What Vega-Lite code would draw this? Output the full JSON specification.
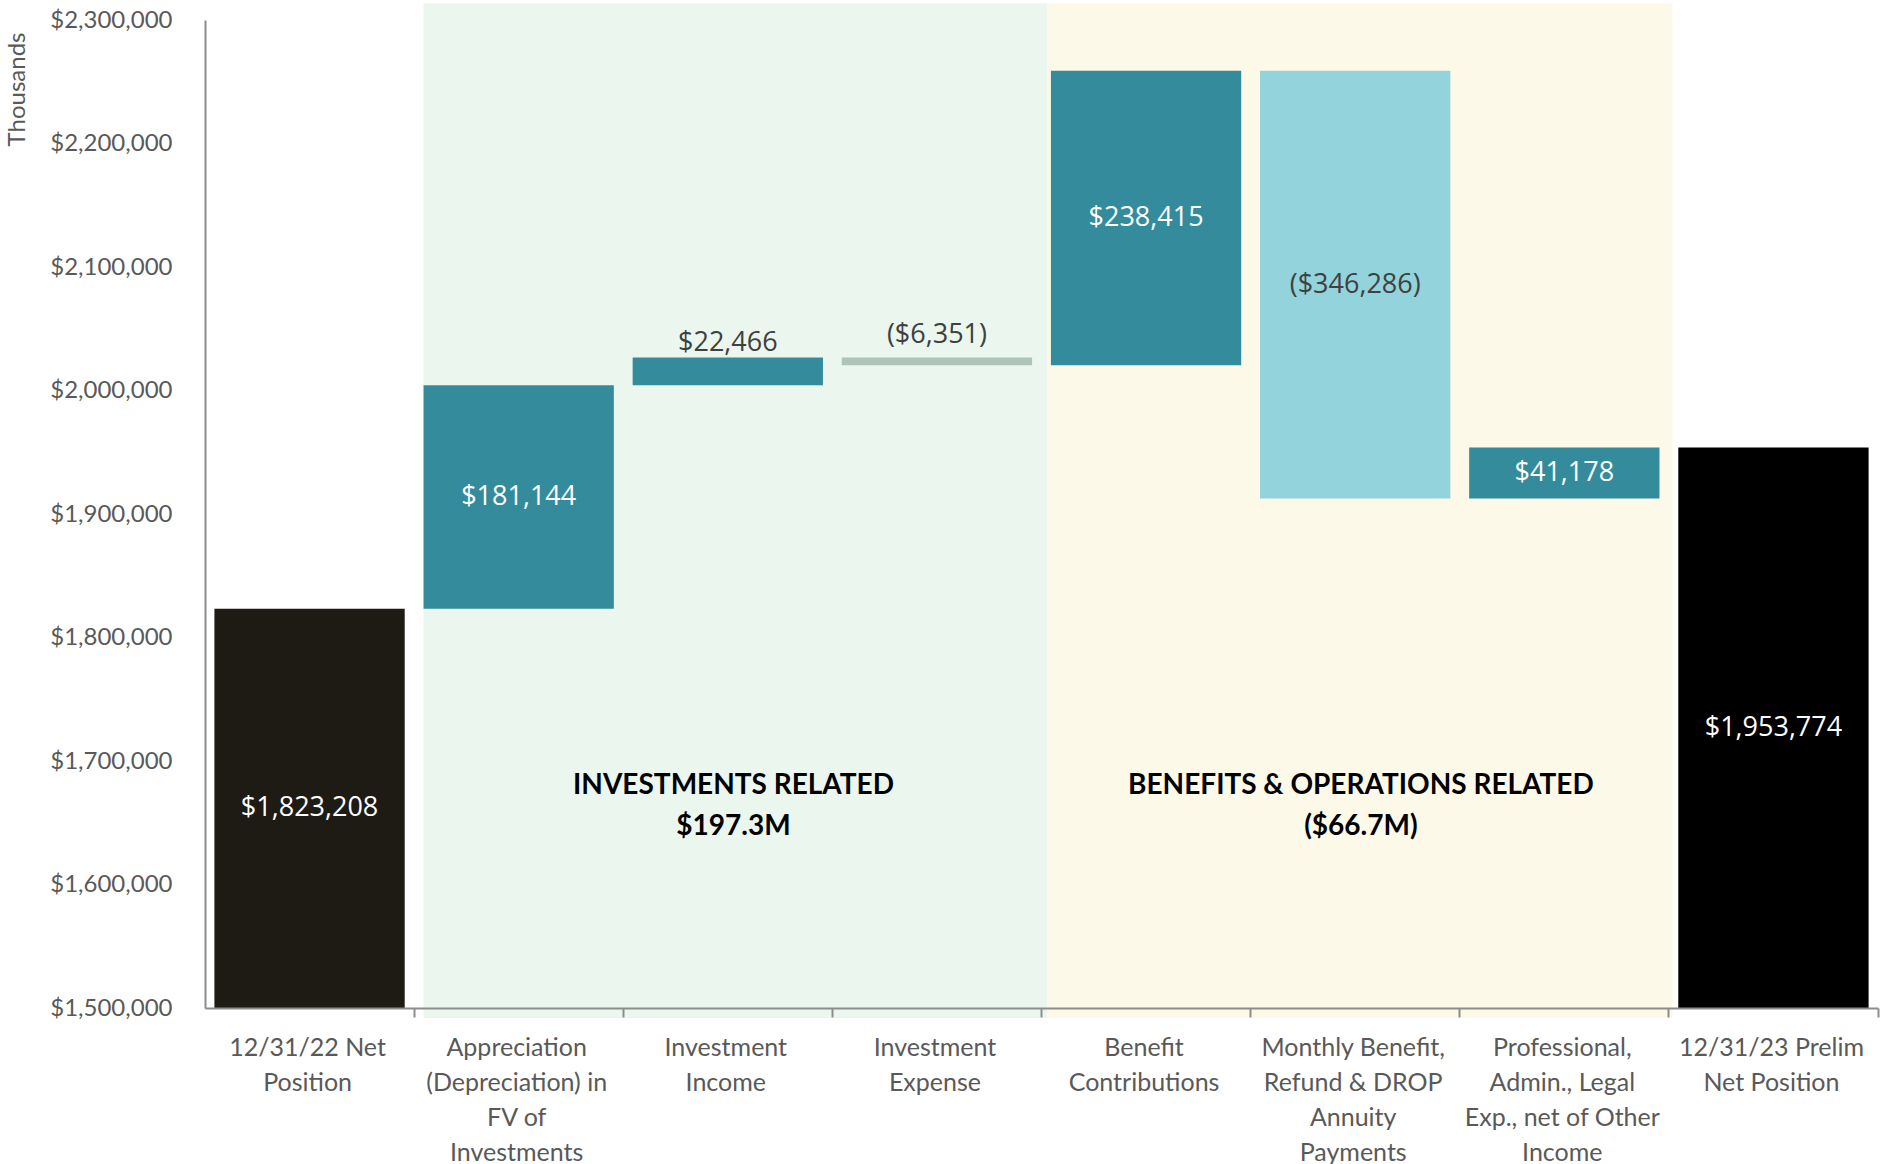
{
  "$schema": "https://vega.github.io/schema/vega-lite/v6.json",
  "width": 1673,
  "height": 988,
  "autosize": {"type": "none"},
  "padding": {"left": 205, "top": 20, "right": 3, "bottom": 156},
  "background": "white",
  "config": {"view": {"stroke": null}, "font": "Lato"},
  "datasets": {
    "steps": [
      {"category": "12/31/22 Net Position", "start": 1500000, "end": 1823208, "label": "$1,823,208"},
      {"category": "Appreciation (Depreciation) in FV of Investments", "start": 1823208, "end": 2004352, "label": "$181,144"},
      {"category": "Investment Income", "start": 2004352, "end": 2026818, "label": "$22,466"},
      {"category": "Investment Expense", "start": 2026818, "end": 2020467, "label": "($6,351)"},
      {"category": "Benefit Contributions", "start": 2020467, "end": 2258882, "label": "$238,415"},
      {"category": "Monthly Benefit, Refund & DROP Annuity Payments", "start": 2258882, "end": 1912596, "label": "($346,286)"},
      {"category": "Professional, Admin., Legal Exp., net of Other Income", "start": 1912596, "end": 1953774, "label": "$41,178"},
      {"category": "12/31/23 Prelim Net Position", "start": 1500000, "end": 1953774, "label": "$1,953,774"}
    ],
    "regions": [
      {"region": "INVESTMENTS RELATED", "amount": "$197.3M", "from": "Appreciation (Depreciation) in FV of Investments", "center": "Investment Income", "to": "Benefit Contributions"},
      {"region": "BENEFITS & OPERATIONS RELATED", "amount": "($66.7M)", "from": "Benefit Contributions", "center": "Monthly Benefit, Refund & DROP Annuity Payments", "to": "12/31/23 Prelim Net Position"}
    ]
  },
  "layer": [
    {
      "data": {"name": "regions"},
      "transform": [{"filter": "datum.region == 'INVESTMENTS RELATED'"}],
      "mark": {"type": "rect", "color": "#EBF7EE"},
      "encoding": {
        "x": {"field": "from", "type": "nominal", "bandPosition": 0,
          "scale": {"domain": ["12/31/22 Net Position", "Appreciation (Depreciation) in FV of Investments", "Investment Income", "Investment Expense", "Benefit Contributions", "Monthly Benefit, Refund & DROP Annuity Payments", "Professional, Admin., Legal Exp., net of Other Income", "12/31/23 Prelim Net Position"], "paddingInner": 0.09, "paddingOuter": 0.045},
          "axis": {
            "title": null, "labelAngle": 0, "zindex": 1, "bandPosition": 1.05,
            "domainColor": "#8C8C8C", "domainWidth": 2, "tickColor": "#8C8C8C", "tickWidth": 2, "tickSize": 9,
            "labelFont": "Lato", "labelFontSize": 25, "labelColor": "#595959", "labelLineHeight": 35, "labelPadding": 18, "labelLimit": 400, "labelOffset": -2,
            "labelExpr": "datum.value == '12/31/22 Net Position' ? ['12/31/22 Net', 'Position'] : datum.value == 'Appreciation (Depreciation) in FV of Investments' ? ['Appreciation', '(Depreciation) in', 'FV of', 'Investments'] : datum.value == 'Investment Income' ? ['Investment', 'Income'] : datum.value == 'Investment Expense' ? ['Investment', 'Expense'] : datum.value == 'Benefit Contributions' ? ['Benefit', 'Contributions'] : datum.value == 'Monthly Benefit, Refund & DROP Annuity Payments' ? ['Monthly Benefit,', 'Refund & DROP', 'Annuity', 'Payments'] : datum.value == 'Professional, Admin., Legal Exp., net of Other Income' ? ['Professional,', 'Admin., Legal', 'Exp., net of Other', 'Income'] : ['12/31/23 Prelim', 'Net Position']"
          }},
        "x2": {"field": "to", "bandPosition": -0.02},
        "y": {"datum": 2313600, "type": "quantitative",
          "scale": {"domain": [1500000, 2300000], "nice": false, "zero": false},
          "axis": {
            "title": "Thousands", "values": [1500000, 1600000, 1700000, 1800000, 1900000, 2000000, 2100000, 2200000, 2300000],
            "format": "$,.0f", "grid": false, "ticks": false, "zindex": 1,
            "domainColor": "#8C8C8C", "domainWidth": 2,
            "labelFont": "Lato", "labelFontSize": 24, "labelColor": "#595959", "labelPadding": 33,
            "titleFont": "Lato", "titleFontSize": 24, "titleFontWeight": "normal", "titleColor": "#595959",
            "titleAngle": 270, "titleAlign": "right", "titleBaseline": "middle", "titleX": -188, "titleY": 12
          }},
        "y2": {"datum": 1491900}
      }
    },
    {
      "data": {"name": "regions"},
      "transform": [{"filter": "datum.region != 'INVESTMENTS RELATED'"}],
      "mark": {"type": "rect", "color": "#FCF9E8"},
      "encoding": {
        "x": {"field": "from", "type": "nominal", "bandPosition": -0.02, "sort": null},
        "x2": {"field": "to", "bandPosition": -0.03},
        "y": {"datum": 2313600, "type": "quantitative"},
        "y2": {"datum": 1491900}
      }
    },
    {
      "data": {"name": "steps"},
      "mark": {"type": "bar"},
      "encoding": {
        "x": {"field": "category", "type": "nominal", "sort": null},
        "y": {"field": "start", "type": "quantitative"},
        "y2": {"field": "end"},
        "color": {"field": "category", "type": "nominal", "legend": null,
          "scale": {"domain": ["12/31/22 Net Position", "Appreciation (Depreciation) in FV of Investments", "Investment Income", "Investment Expense", "Benefit Contributions", "Monthly Benefit, Refund & DROP Annuity Payments", "Professional, Admin., Legal Exp., net of Other Income", "12/31/23 Prelim Net Position"],
            "range": ["#1E1B14", "#338B9B", "#338B9B", "#AFC4B8", "#338B9B", "#93D3DC", "#338B9B", "#000000"]}}
      }
    },
    {
      "data": {"name": "steps"},
      "transform": [
        {"filter": "datum.category != 'Investment Income' && datum.category != 'Investment Expense'"},
        {"calculate": "(datum.start + datum.end) / 2", "as": "mid"}
      ],
      "mark": {"type": "text", "font": "Open Sans", "fontSize": 27, "baseline": "middle", "align": "center"},
      "encoding": {
        "x": {"field": "category", "type": "nominal", "sort": null},
        "y": {"field": "mid", "type": "quantitative"},
        "text": {"field": "label"},
        "color": {"condition": {"test": "datum.category == 'Monthly Benefit, Refund & DROP Annuity Payments'", "value": "#404040"}, "value": "#FFFFFF"}
      }
    },
    {
      "data": {"name": "steps"},
      "transform": [
        {"filter": "datum.category == 'Investment Income'"}
      ],
      "mark": {"type": "text", "font": "Open Sans", "fontSize": 27, "baseline": "middle", "align": "center", "color": "#404040", "dy": -14},
      "encoding": {
        "x": {"field": "category", "type": "nominal", "sort": null},
        "y": {"field": "end", "type": "quantitative"},
        "text": {"field": "label"}
      }
    },
    {
      "data": {"name": "steps"},
      "transform": [
        {"filter": "datum.category == 'Investment Expense'"}
      ],
      "mark": {"type": "text", "font": "Open Sans", "fontSize": 27, "baseline": "middle", "align": "center", "color": "#404040", "dy": -22},
      "encoding": {
        "x": {"field": "category", "type": "nominal", "sort": null},
        "y": {"field": "start", "type": "quantitative"},
        "text": {"field": "label"}
      }
    },
    {
      "data": {"name": "regions"},
      "mark": {"type": "text", "font": "Lato", "fontSize": 28, "fontWeight": "bold", "baseline": "middle", "align": "center", "color": "#000000"},
      "encoding": {
        "x": {"field": "center", "type": "nominal", "sort": null, "bandPosition": 0.53},
        "y": {"datum": 1679900, "type": "quantitative"},
        "text": {"field": "region"}
      }
    },
    {
      "data": {"name": "regions"},
      "mark": {"type": "text", "font": "Lato", "fontSize": 28, "fontWeight": "bold", "baseline": "middle", "align": "center", "color": "#000000"},
      "encoding": {
        "x": {"field": "center", "type": "nominal", "sort": null, "bandPosition": 0.53},
        "y": {"datum": 1646700, "type": "quantitative"},
        "text": {"field": "amount"}
      }
    }
  ]
}
